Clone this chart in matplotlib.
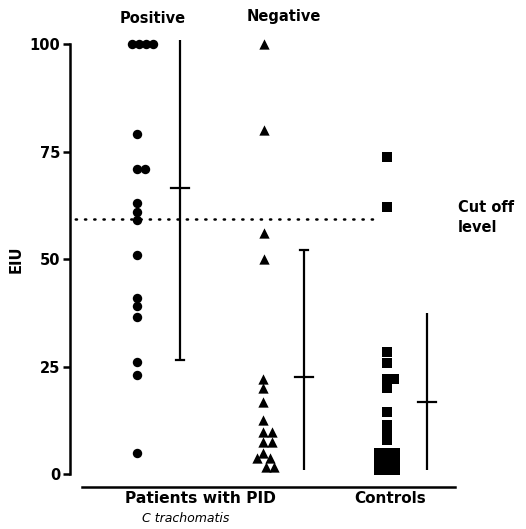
import matplotlib
matplotlib.use("Agg")
import matplotlib.pyplot as plt
import numpy as np

# ---- data ----
groups = ["Positive", "Negative", "Controls"]
positive_vals = [100, 100, 100, 100, 79, 71, 71, 63, 61, 59, 51, 41, 39, 36.5, 26, 23, 5]
positive_off = [-8, -1, 6, 13, -3, -3, 5, -3, -3, -3, -3, -3, -3, -3, -3, -3, -3]
negative_vals = [100, 80, 56, 50, 22, 20, 16.7, 12.5, 9.8, 9.8, 7.5, 7.5, 5, 3.7, 3.7, 1.6, 1.6]
negative_off = [0, 0, 0, 0, -1, -1, -1, -1, -1, 8, -1, 8, -1, -7, 6, 2, 10]
control_vals = [73.7, 62, 28.4, 25.8, 22, 22, 20, 14.4, 11.5, 9.5, 8,
                5, 5, 5, 3, 3, 3, 1, 1, 1]
control_off = [0, 0, 0, 0, 0, 7, 0, 0, 0, 0, 0,
               -8, 0, 8, -8, 0, 8, -8, 0, 8]
# mean and range bars
bar_mean = [66.5, 22.5, 16.7]
bar_low = [26.5, 1, 1]
bar_high = [101, 52, 37.4]
cutoff = 59.3

PX = 123.5  # pixels per group spacing
fig = plt.figure(figsize=(5.26, 5.29), dpi=100)
ax = fig.add_axes([70/526, (529-487)/529, 450/526, (487-31.1)/529])
xmin = (70-140)/PX
xmax = (520-140)/PX
ax.set_xlim(xmin, xmax)
ax.set_ylim(-3, 103)

def px(o):
    return o/PX

ax.scatter([0+px(o) for o in positive_off], positive_vals, marker='o', s=46, color='black', linewidths=0, zorder=3)
ax.scatter([1+px(o) for o in negative_off], negative_vals, marker='^', s=55, color='black', linewidths=0, zorder=3)
ax.scatter([2+px(o) for o in control_off], control_vals, marker='s', s=42, color='black', linewidths=0, zorder=3)

# mean/range bars
bar_dx = 40/PX
cap = 9/PX
for i in range(3):
    xb = i + bar_dx
    ax.plot([xb, xb], [bar_low[i], bar_high[i]], color='black', lw=1.6, solid_capstyle='butt')
    ax.plot([xb-cap, xb+cap], [bar_mean[i]]*2, color='black', lw=1.6)
ax.plot([bar_dx-4/PX, bar_dx+4/PX], [bar_low[0]]*2, color='black', lw=1.6)
ax.plot([1+bar_dx-4/PX, 1+bar_dx+4/PX], [bar_high[1]]*2, color='black', lw=1.6)

# cut-off line
ax.plot([(66-140)/PX, (376-140)/PX], [cutoff, cutoff], color='black', lw=1.8,
        linestyle=(0, (0.5, 3.2)), dash_capstyle='round')
ax.text((458-140)/PX, cutoff+0.3, "Cut off\nlevel", ha='left', va='center',
        fontsize=10.5, fontweight='bold', linespacing=1.45)

# spines
for s in ['top', 'right']:
    ax.spines[s].set_visible(False)
ax.spines['left'].set_bounds(0, 100)
ax.spines['left'].set_linewidth(1.8)
ax.spines['bottom'].set_bounds((82-140)/PX, (455-140)/PX)
ax.spines['bottom'].set_linewidth(1.8)
ax.set_yticks([0, 25, 50, 75, 100])
ax.set_yticklabels(["0", "25", "50", "75", "100"], fontsize=10.5, fontweight='bold')
ax.tick_params(axis='y', length=5, width=1.8, pad=2)
ax.set_xticks([])
ax.set_ylabel("EIU", fontsize=10.5, fontweight='bold', labelpad=4)

# group headers
ax.text(0+px(13), 106.0, "Positive", ha='center', va='center', fontsize=10.5, fontweight='bold', clip_on=False)
ax.text(1+px(20), 106.3, "Negative", ha='center', va='center', fontsize=10.5, fontweight='bold', clip_on=False)

# bottom category labels
ax.text((200-140)/PX, -5.6, "Patients with PID", ha='center', va='center', fontsize=11.2, fontweight='bold', clip_on=False)
ax.text((186-140)/PX, -10.4, "C trachomatis", ha='center', va='center', fontsize=9, style='italic', clip_on=False)
ax.text((390-140)/PX, -5.6, "Controls", ha='center', va='center', fontsize=11, fontweight='bold', clip_on=False)

fig.savefig("out.png", dpi=100)
